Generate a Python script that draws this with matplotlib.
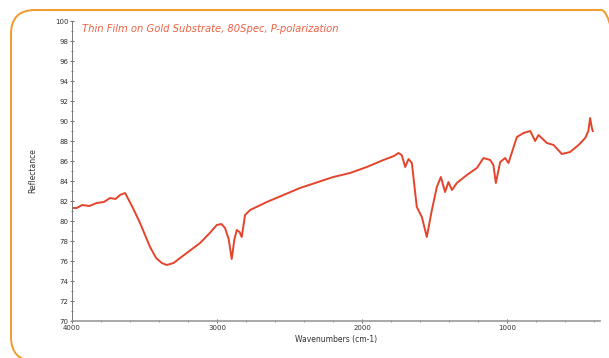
import numpy as np
import matplotlib
matplotlib.use("Agg")
import matplotlib.pyplot as plt
from matplotlib.patches import FancyBboxPatch
from matplotlib.ticker import MultipleLocator

# Spectrum (wavenumber cm-1, reflectance)
wavenumber = [3990, 3968, 3930, 3880, 3830, 3780, 3738, 3700, 3669, 3634, 3623,
              3580, 3531, 3462, 3420, 3381, 3347, 3300, 3255, 3117, 3050, 3002,
              2970, 2945, 2920, 2899, 2880, 2864, 2845, 2830, 2807, 2772, 2657,
              2428, 2199, 2083, 1968, 1853, 1780, 1750, 1727, 1703, 1680, 1657,
              1623, 1588, 1554, 1519, 1485, 1457, 1428, 1405, 1381, 1347, 1278,
              1209, 1163, 1117, 1095, 1078, 1048, 1014, 991, 933, 887, 841,
              807, 784, 726, 680, 623, 566, 508, 462, 440, 428, 416, 410]
reflectance = [81.3, 81.3, 81.6, 81.5, 81.8, 81.9, 82.3, 82.2, 82.6, 82.8, 82.5,
               81.3, 79.8, 77.4, 76.3, 75.8, 75.6, 75.8, 76.3, 77.8, 78.8, 79.6,
               79.7, 79.3, 78.2, 76.2, 78.2, 79.1, 78.9, 78.4, 80.6, 81.1, 81.9,
               83.3, 84.4, 84.8, 85.4, 86.1, 86.5, 86.8, 86.6, 85.4, 86.2, 85.8,
               81.4, 80.4, 78.4, 81.1, 83.4, 84.4, 82.9, 83.9, 83.1, 83.8, 84.6,
               85.3, 86.3, 86.1, 85.6, 83.8, 85.9, 86.3, 85.8, 88.4, 88.8, 89.0,
               88.0, 88.6, 87.8, 87.6, 86.7, 86.9, 87.6, 88.3, 89.0, 90.3, 89.3, 89.0]

title_text = "Thin Film on Gold Substrate, 80Spec, P-polarization"
x_ticks = [4000, 3000, 2000, 1000]
y_ticks = list(range(70, 101, 2))

W, H = 609, 358
fig = plt.figure(figsize=(W / 100, H / 100), dpi=100)
fig.patch.set_facecolor("white")

# orange rounded frame around the whole card, drawn in pixel units (y up)
bg = fig.add_axes([0, 0, 1, 1])
bg.set_xlim(0, W)
bg.set_ylim(0, H)
bg.axis("off")
bg.add_patch(FancyBboxPatch((11, -3), 614, 351,
                            boxstyle="round,pad=0,rounding_size=24",
                            fill=False, edgecolor="#f39a2c", linewidth=1.4))

ax = fig.add_axes([72 / W, 1 - 321 / H, (600 - 72) / W, 300 / H])
ax.plot(wavenumber, reflectance, color="#e4442c", lw=1.4)

ax.set_xlim(4000, 360)
ax.set_ylim(70, 100)
ax.set_xticks(x_ticks)
ax.set_yticks(y_ticks)
ax.xaxis.set_minor_locator(MultipleLocator(200))
ax.yaxis.set_minor_locator(MultipleLocator(1))
ax.tick_params(which="both", direction="inout", colors="#555555",
               labelsize=5, labelcolor="#333333")
ax.tick_params(which="major", length=3, width=0.6)
ax.tick_params(which="minor", length=2, width=0.5)
ax.tick_params(axis="y", pad=1)
ax.tick_params(axis="x", pad=1.5)

for side in ("top", "right"):
    ax.spines[side].set_visible(False)
ax.spines["left"].set_color("#777777")
ax.spines["bottom"].set_color("#999999")
ax.spines["left"].set_linewidth(0.7)
ax.spines["bottom"].set_linewidth(1.2)

ax.set_xlabel("Wavenumbers (cm-1)", fontsize=5.5, color="#333333", labelpad=3)
ax.set_ylabel("Reflectance", fontsize=5.5, color="#333333", labelpad=13)

ax.text(0.018, 0.975, title_text, transform=ax.transAxes, fontsize=7.2,
        style="italic", color="#ee6244", ha="left", va="center")

fig.savefig("out.png", dpi=100)
